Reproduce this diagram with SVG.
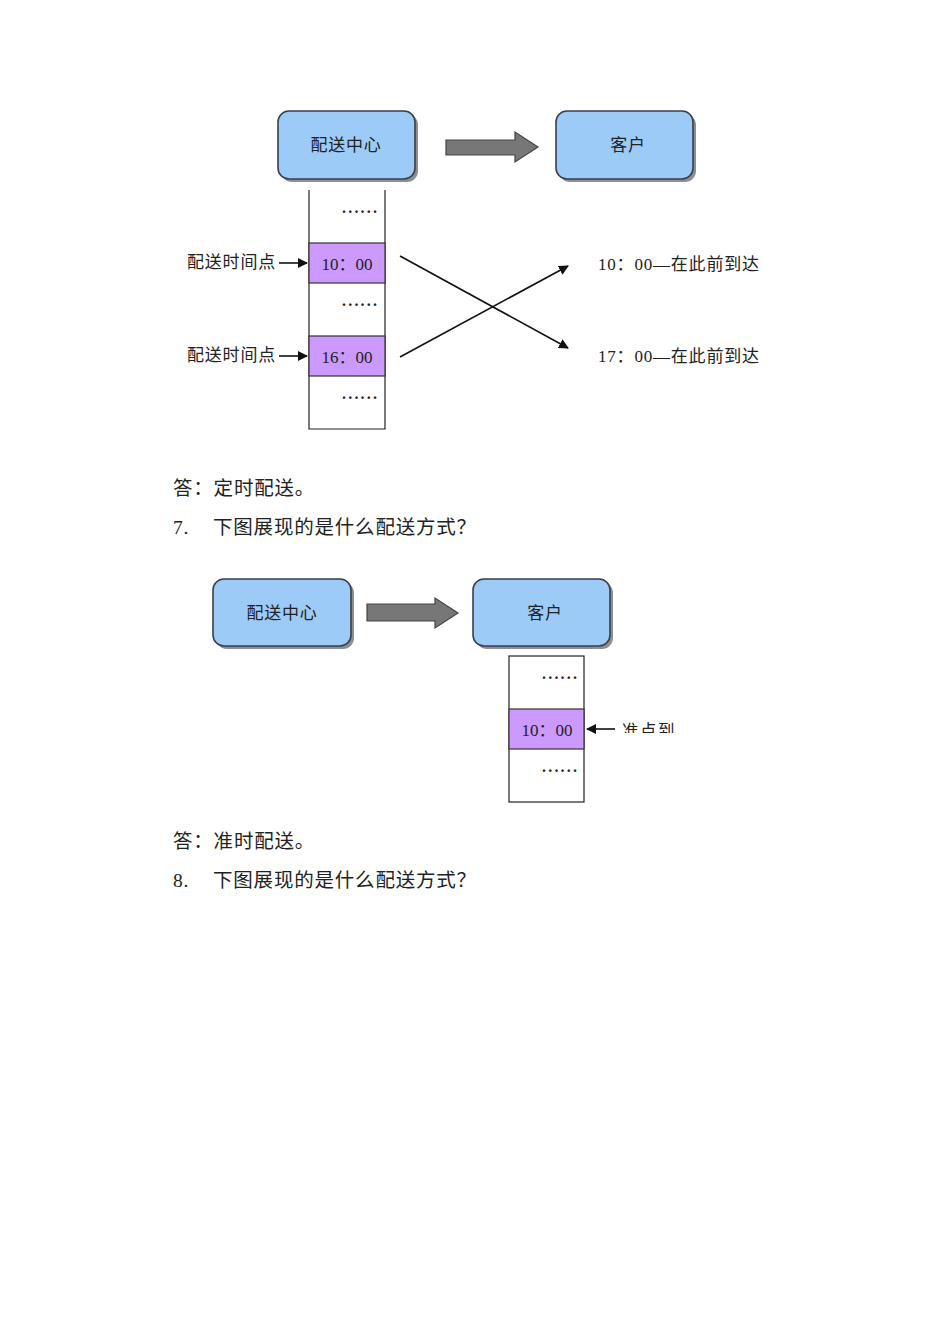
<svg xmlns="http://www.w3.org/2000/svg" width="950" height="1344" viewBox="0 0 950 1344">
<style>
text{font-family:"Liberation Serif","Noto Sans CJK SC",serif;fill:#222}
.box{fill:#9ccbf8;stroke:#3a3f4a;stroke-width:1.6}
.shadow{fill:#8a8f96}
.big{fill:#777;stroke:#444;stroke-width:1.2}
.cell{fill:#fff;stroke:#222;stroke-width:1.2}
.hl{fill:#cc99ff;stroke:#333;stroke-width:1.2}
.lbl{font-size:17px;letter-spacing:0.8px}
.time{font-size:17px}
.dots{font-size:16px;font-weight:bold;letter-spacing:2.2px}
.para{font-size:19.5px;letter-spacing:0.8px}
.ln{stroke:#111;stroke-width:1.6;fill:none}
</style>
<defs>
<marker id="ah" viewBox="0 0 10 10" refX="9" refY="5" markerWidth="10" markerHeight="10" markerUnits="userSpaceOnUse" orient="auto">
<path d="M0,0 L10,5 L0,10 z" fill="#111"/>
</marker>
<clipPath id="clipA"><rect x="600" y="700" width="120" height="33"/></clipPath>
</defs>
<rect width="950" height="1344" fill="#fff"/>

<!-- Diagram 1 -->
<g id="d1-center">
<rect class="shadow" x="281" y="114" width="137" height="68" rx="11"/>
<rect class="box" x="278" y="111" width="137" height="68" rx="11"/>
<text class="lbl" x="346" y="151" text-anchor="middle">配送中心</text>
</g>
<g id="d1-arrow">
<path class="big" d="M446,140 L515,140 L515,132 L538,147 L515,162 L515,155 L446,155 z"/>
</g>
<g id="d1-customer">
<rect class="shadow" x="559" y="114" width="137" height="68" rx="11"/>
<rect class="box" x="556" y="111" width="137" height="68" rx="11"/>
<text class="lbl" x="628" y="151" text-anchor="middle">客户</text>
</g>
<g id="d1-column">
<path d="M309,190 L309,429 L385,429 L385,190" fill="#fff" stroke="#222" stroke-width="1.2"/>
<rect class="hl" x="309" y="243" width="76" height="40"/>
<rect class="hl" x="309" y="336" width="76" height="40"/>
<text class="dots" x="342" y="213">......</text>
<text class="time" x="347" y="270" text-anchor="middle">10：00</text>
<text class="dots" x="342" y="306">......</text>
<text class="time" x="347" y="363" text-anchor="middle">16：00</text>
<text class="dots" x="342" y="399">......</text>
</g>
<g id="d1-labels">
<text class="lbl" x="187" y="268">配送时间点</text>
<text class="lbl" x="187" y="361">配送时间点</text>
<text class="lbl" x="598" y="270">10：00—在此前到达</text>
<text class="lbl" x="598" y="362">17：00—在此前到达</text>
</g>
<g id="connectors">
<line class="ln" x1="279" y1="263" x2="307" y2="263" marker-end="url(#ah)"/>
<line class="ln" x1="279" y1="356" x2="307" y2="356" marker-end="url(#ah)"/>
<line class="ln" x1="400" y1="256" x2="568" y2="348" marker-end="url(#ah)"/>
<line class="ln" x1="400" y1="357" x2="568" y2="266" marker-end="url(#ah)"/>
<line class="ln" x1="615" y1="729" x2="587" y2="729" marker-end="url(#ah)"/>
</g>

<g id="para1">
<text class="para" x="173" y="495">答：定时配送。</text>
<text class="para" x="173" y="534">7.</text>
<text class="para" x="213" y="534">下图展现的是什么配送方式？</text>
</g>

<!-- Diagram 2 -->
<g id="d2-center">
<rect class="shadow" x="216" y="582" width="138" height="67" rx="11"/>
<rect class="box" x="213" y="579" width="138" height="67" rx="11"/>
<text class="lbl" x="282" y="619" text-anchor="middle">配送中心</text>
</g>
<g id="d2-arrow">
<path class="big" d="M367,604 L435,604 L435,598 L458,613 L435,628 L435,621 L367,621 z"/>
</g>
<g id="d2-customer">
<rect class="shadow" x="476" y="582" width="137" height="67" rx="11"/>
<rect class="box" x="473" y="579" width="137" height="67" rx="11"/>
<text class="lbl" x="545" y="619" text-anchor="middle">客户</text>
</g>
<g id="d2-column">
<rect class="cell" x="509" y="656" width="75" height="146"/>
<rect class="hl" x="509" y="709" width="75" height="40"/>
<text class="dots" x="542" y="679">......</text>
<text class="time" x="547" y="736" text-anchor="middle">10：00</text>
<text class="dots" x="542" y="772">......</text>
</g>
<g id="d2-label">
<text class="lbl" x="622" y="737" clip-path="url(#clipA)" style="font-size:16.5px;letter-spacing:1.5px">准点到</text>
</g>

<g id="para2">
<text class="para" x="173" y="848">答：准时配送。</text>
<text class="para" x="173" y="887">8.</text>
<text class="para" x="213" y="887">下图展现的是什么配送方式？</text>
</g>
</svg>
